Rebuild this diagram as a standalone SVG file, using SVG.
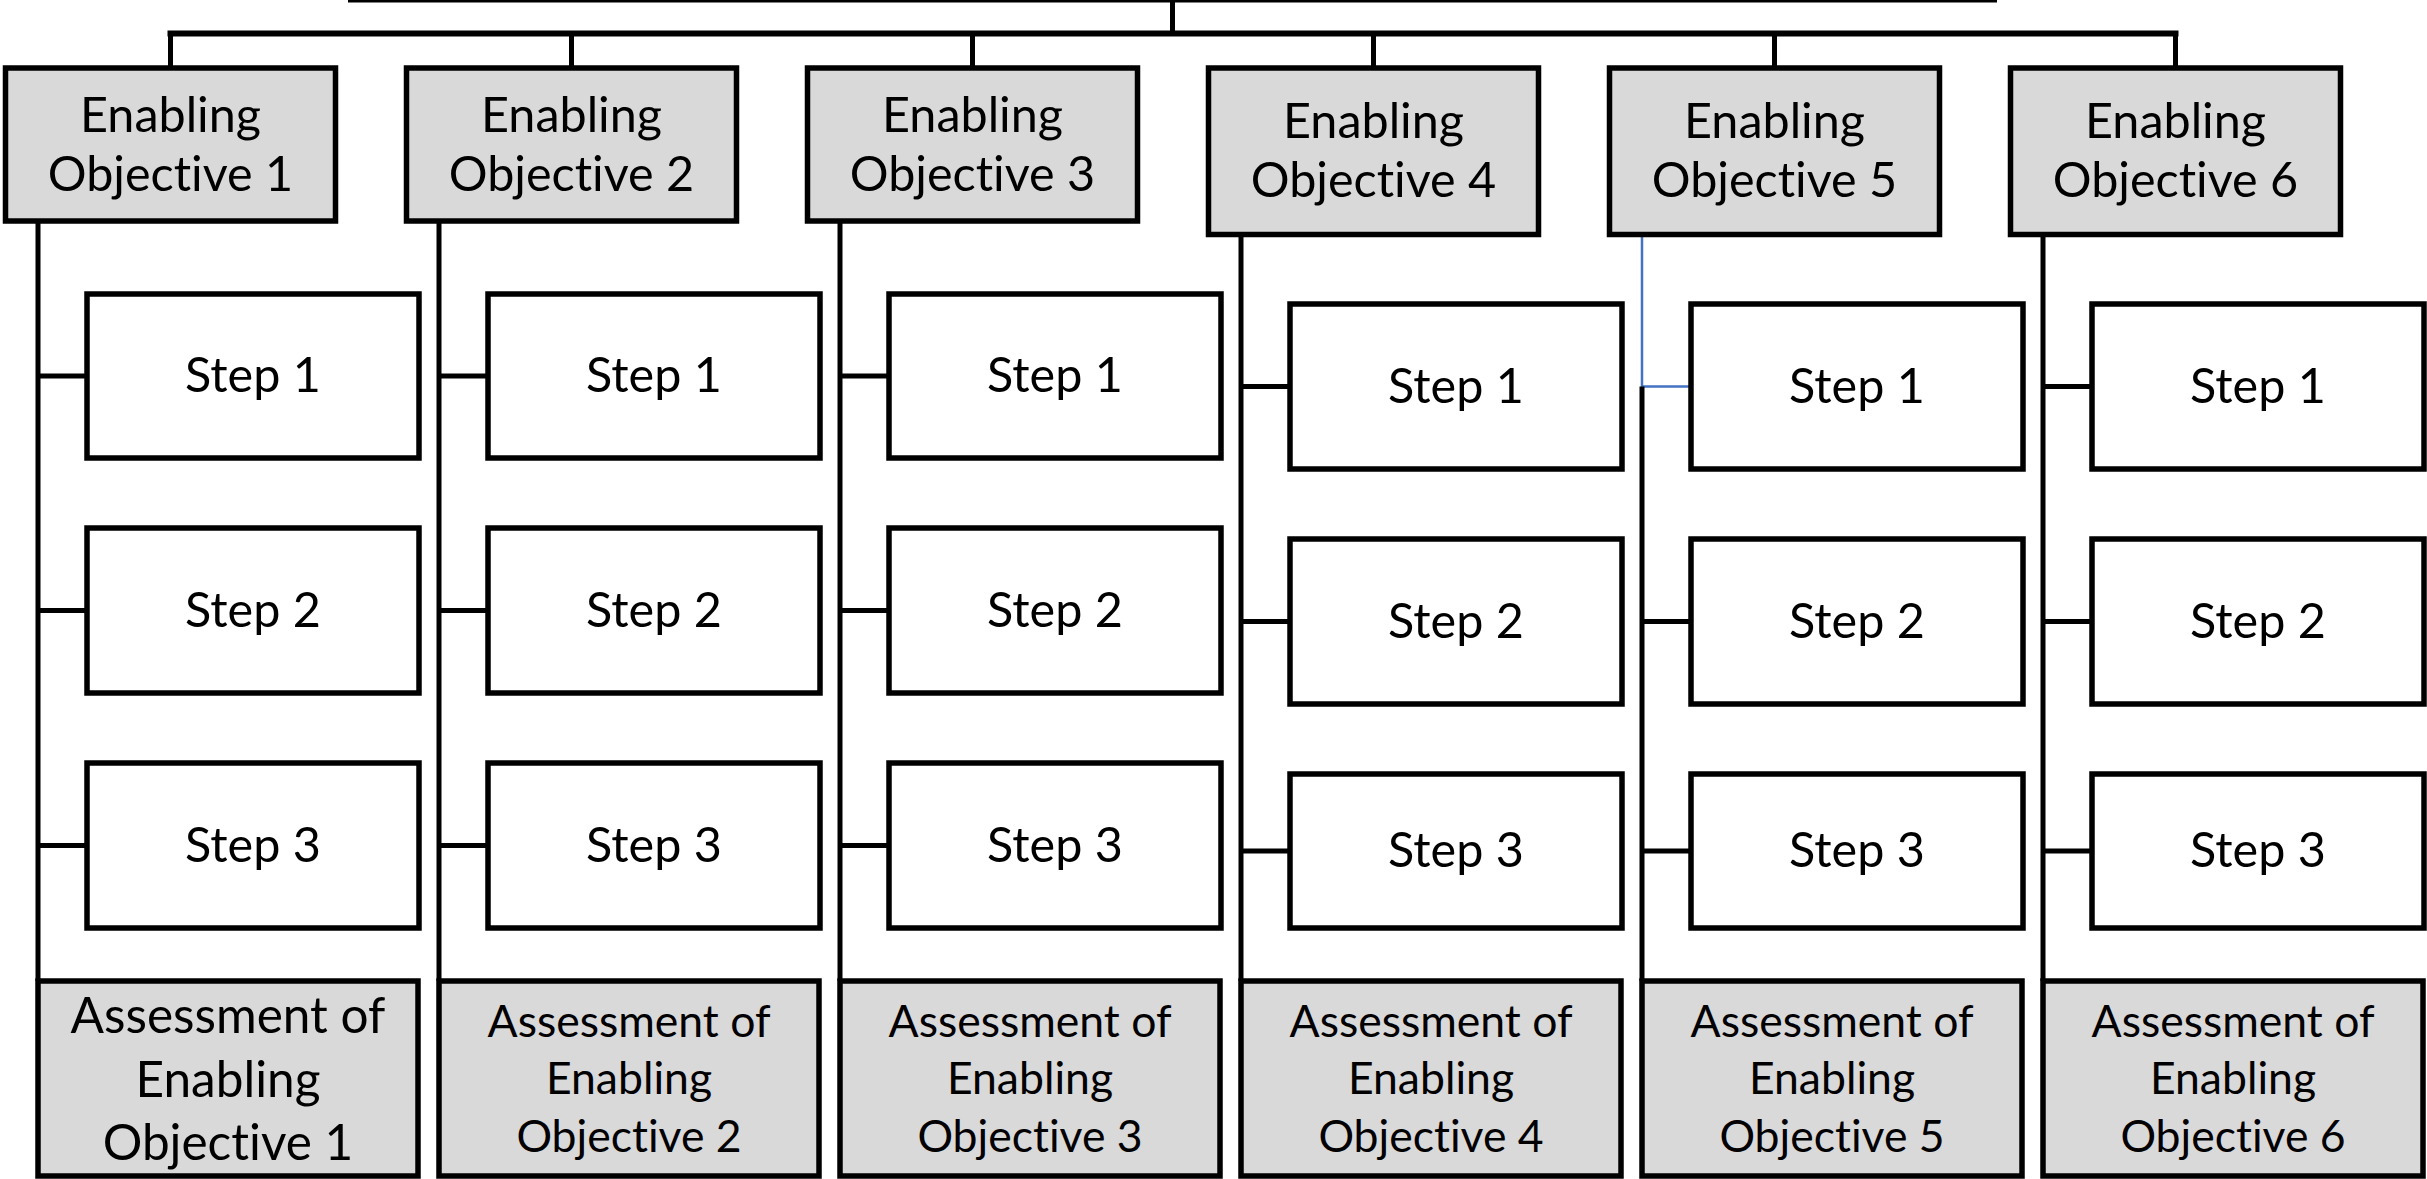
<svg xmlns="http://www.w3.org/2000/svg" width="2427" height="1179" viewBox="0 0 2427 1179">
<style>
.eo{fill:#D9D9D9;stroke:#000;stroke-width:5.5}
.st{fill:#FFFFFF;stroke:#000;stroke-width:5.5}
.as{fill:#D9D9D9;stroke:#000;stroke-width:5.5}
.t{font-family:Lato,"Liberation Sans",sans-serif;font-size:48.5px;fill:#000;text-anchor:middle;font-variant-ligatures:none}
.t1{font-family:Lato,"Liberation Sans",sans-serif;font-size:49.5px;fill:#000;text-anchor:middle;font-variant-ligatures:none}
.ta{font-family:Lato,"Liberation Sans",sans-serif;font-size:44.5px;fill:#000;text-anchor:middle;font-variant-ligatures:none}
.ln{stroke:#000;stroke-width:5;fill:none}
.bus{stroke:#000;stroke-width:6;fill:none}
.blue{stroke:#4472C4;stroke-width:2.5;fill:none}
</style>
<rect width="2427" height="1179" fill="#FFFFFF"/>
<g id="connectors">
<line class="ln" x1="348" y1="0" x2="1997" y2="0"/>
<line class="ln" x1="1172.5" y1="0" x2="1172.5" y2="33.5"/>
<line class="bus" x1="167.5" y1="33.5" x2="2178.5" y2="33.5"/>
<line class="ln" x1="170.5" y1="33.5" x2="170.5" y2="68"/>
<line class="ln" x1="571.5" y1="33.5" x2="571.5" y2="68"/>
<line class="ln" x1="972.5" y1="33.5" x2="972.5" y2="68"/>
<line class="ln" x1="1373.5" y1="33.5" x2="1373.5" y2="68"/>
<line class="ln" x1="1774.5" y1="33.5" x2="1774.5" y2="68"/>
<line class="ln" x1="2175.5" y1="33.5" x2="2175.5" y2="68"/>
<line class="ln" x1="38" y1="221" x2="38" y2="981"/>
<line class="ln" x1="38" y1="376" x2="87" y2="376"/>
<line class="ln" x1="38" y1="610.5" x2="87" y2="610.5"/>
<line class="ln" x1="38" y1="845.5" x2="87" y2="845.5"/>
<line class="ln" x1="439" y1="221" x2="439" y2="981"/>
<line class="ln" x1="439" y1="376" x2="488" y2="376"/>
<line class="ln" x1="439" y1="610.5" x2="488" y2="610.5"/>
<line class="ln" x1="439" y1="845.5" x2="488" y2="845.5"/>
<line class="ln" x1="840" y1="221" x2="840" y2="981"/>
<line class="ln" x1="840" y1="376" x2="889" y2="376"/>
<line class="ln" x1="840" y1="610.5" x2="889" y2="610.5"/>
<line class="ln" x1="840" y1="845.5" x2="889" y2="845.5"/>
<line class="ln" x1="1241" y1="234.5" x2="1241" y2="981"/>
<line class="ln" x1="1241" y1="386.5" x2="1290" y2="386.5"/>
<line class="ln" x1="1241" y1="621.5" x2="1290" y2="621.5"/>
<line class="ln" x1="1241" y1="851" x2="1290" y2="851"/>
<polyline class="blue" points="1642,234.5 1642,386.5 1691,386.5"/>
<line class="ln" x1="1642" y1="386.5" x2="1642" y2="981"/>
<line class="ln" x1="1642" y1="621.5" x2="1691" y2="621.5"/>
<line class="ln" x1="1642" y1="851" x2="1691" y2="851"/>
<line class="ln" x1="2043" y1="234.5" x2="2043" y2="981"/>
<line class="ln" x1="2043" y1="386.5" x2="2092" y2="386.5"/>
<line class="ln" x1="2043" y1="621.5" x2="2092" y2="621.5"/>
<line class="ln" x1="2043" y1="851" x2="2092" y2="851"/>
</g>
<g id="eo1"><rect class="eo" x="5.5" y="68" width="330" height="153"/><text class="t" x="170.5" y="131.5">Enabling</text><text class="t" x="170.5" y="190.5">Objective 1</text></g>
<g id="eo2"><rect class="eo" x="406.5" y="68" width="330" height="153"/><text class="t" x="571.5" y="131.5">Enabling</text><text class="t" x="571.5" y="190.5">Objective 2</text></g>
<g id="eo3"><rect class="eo" x="807.5" y="68" width="330" height="153"/><text class="t" x="972.5" y="131.5">Enabling</text><text class="t" x="972.5" y="190.5">Objective 3</text></g>
<g id="eo4"><rect class="eo" x="1208.5" y="68" width="330" height="166.5"/><text class="t" x="1373.5" y="138">Enabling</text><text class="t" x="1373.5" y="197">Objective 4</text></g>
<g id="eo5"><rect class="eo" x="1609.5" y="68" width="330" height="166.5"/><text class="t" x="1774.5" y="138">Enabling</text><text class="t" x="1774.5" y="197">Objective 5</text></g>
<g id="eo6"><rect class="eo" x="2010.5" y="68" width="330" height="166.5"/><text class="t" x="2175.5" y="138">Enabling</text><text class="t" x="2175.5" y="197">Objective 6</text></g>
<g id="c1s1"><rect class="st" x="87" y="294" width="332" height="164"/><text class="t" x="253" y="392">Step 1</text></g>
<g id="c1s2"><rect class="st" x="87" y="528" width="332" height="165"/><text class="t" x="253" y="626.5">Step 2</text></g>
<g id="c1s3"><rect class="st" x="87" y="763" width="332" height="165"/><text class="t" x="253" y="861.5">Step 3</text></g>
<g id="c2s1"><rect class="st" x="488" y="294" width="332" height="164"/><text class="t" x="654" y="392">Step 1</text></g>
<g id="c2s2"><rect class="st" x="488" y="528" width="332" height="165"/><text class="t" x="654" y="626.5">Step 2</text></g>
<g id="c2s3"><rect class="st" x="488" y="763" width="332" height="165"/><text class="t" x="654" y="861.5">Step 3</text></g>
<g id="c3s1"><rect class="st" x="889" y="294" width="332" height="164"/><text class="t" x="1055" y="392">Step 1</text></g>
<g id="c3s2"><rect class="st" x="889" y="528" width="332" height="165"/><text class="t" x="1055" y="626.5">Step 2</text></g>
<g id="c3s3"><rect class="st" x="889" y="763" width="332" height="165"/><text class="t" x="1055" y="861.5">Step 3</text></g>
<g id="c4s1"><rect class="st" x="1290" y="304" width="332" height="165"/><text class="t" x="1456" y="402.5">Step 1</text></g>
<g id="c4s2"><rect class="st" x="1290" y="539" width="332" height="165"/><text class="t" x="1456" y="637.5">Step 2</text></g>
<g id="c4s3"><rect class="st" x="1290" y="774" width="332" height="154"/><text class="t" x="1456" y="867">Step 3</text></g>
<g id="c5s1"><rect class="st" x="1691" y="304" width="332" height="165"/><text class="t" x="1857" y="402.5">Step 1</text></g>
<g id="c5s2"><rect class="st" x="1691" y="539" width="332" height="165"/><text class="t" x="1857" y="637.5">Step 2</text></g>
<g id="c5s3"><rect class="st" x="1691" y="774" width="332" height="154"/><text class="t" x="1857" y="867">Step 3</text></g>
<g id="c6s1"><rect class="st" x="2092" y="304" width="332" height="165"/><text class="t" x="2258" y="402.5">Step 1</text></g>
<g id="c6s2"><rect class="st" x="2092" y="539" width="332" height="165"/><text class="t" x="2258" y="637.5">Step 2</text></g>
<g id="c6s3"><rect class="st" x="2092" y="774" width="332" height="154"/><text class="t" x="2258" y="867">Step 3</text></g>
<g id="as1"><rect class="as" x="38" y="981" width="380" height="195"/><text class="t1" x="228" y="1033">Assessment of</text><text class="t1" x="228" y="1097">Enabling</text><text class="t1" x="228" y="1160">Objective 1</text></g>
<g id="as2"><rect class="as" x="439" y="981" width="380" height="195"/><text class="ta" x="629" y="1037">Assessment of</text><text class="ta" x="629" y="1093.5">Enabling</text><text class="ta" x="629" y="1152">Objective 2</text></g>
<g id="as3"><rect class="as" x="840" y="981" width="380" height="195"/><text class="ta" x="1030" y="1037">Assessment of</text><text class="ta" x="1030" y="1093.5">Enabling</text><text class="ta" x="1030" y="1152">Objective 3</text></g>
<g id="as4"><rect class="as" x="1241" y="981" width="380" height="195"/><text class="ta" x="1431" y="1037">Assessment of</text><text class="ta" x="1431" y="1093.5">Enabling</text><text class="ta" x="1431" y="1152">Objective 4</text></g>
<g id="as5"><rect class="as" x="1642" y="981" width="380" height="195"/><text class="ta" x="1832" y="1037">Assessment of</text><text class="ta" x="1832" y="1093.5">Enabling</text><text class="ta" x="1832" y="1152">Objective 5</text></g>
<g id="as6"><rect class="as" x="2043" y="981" width="380" height="195"/><text class="ta" x="2233" y="1037">Assessment of</text><text class="ta" x="2233" y="1093.5">Enabling</text><text class="ta" x="2233" y="1152">Objective 6</text></g>
</svg>
